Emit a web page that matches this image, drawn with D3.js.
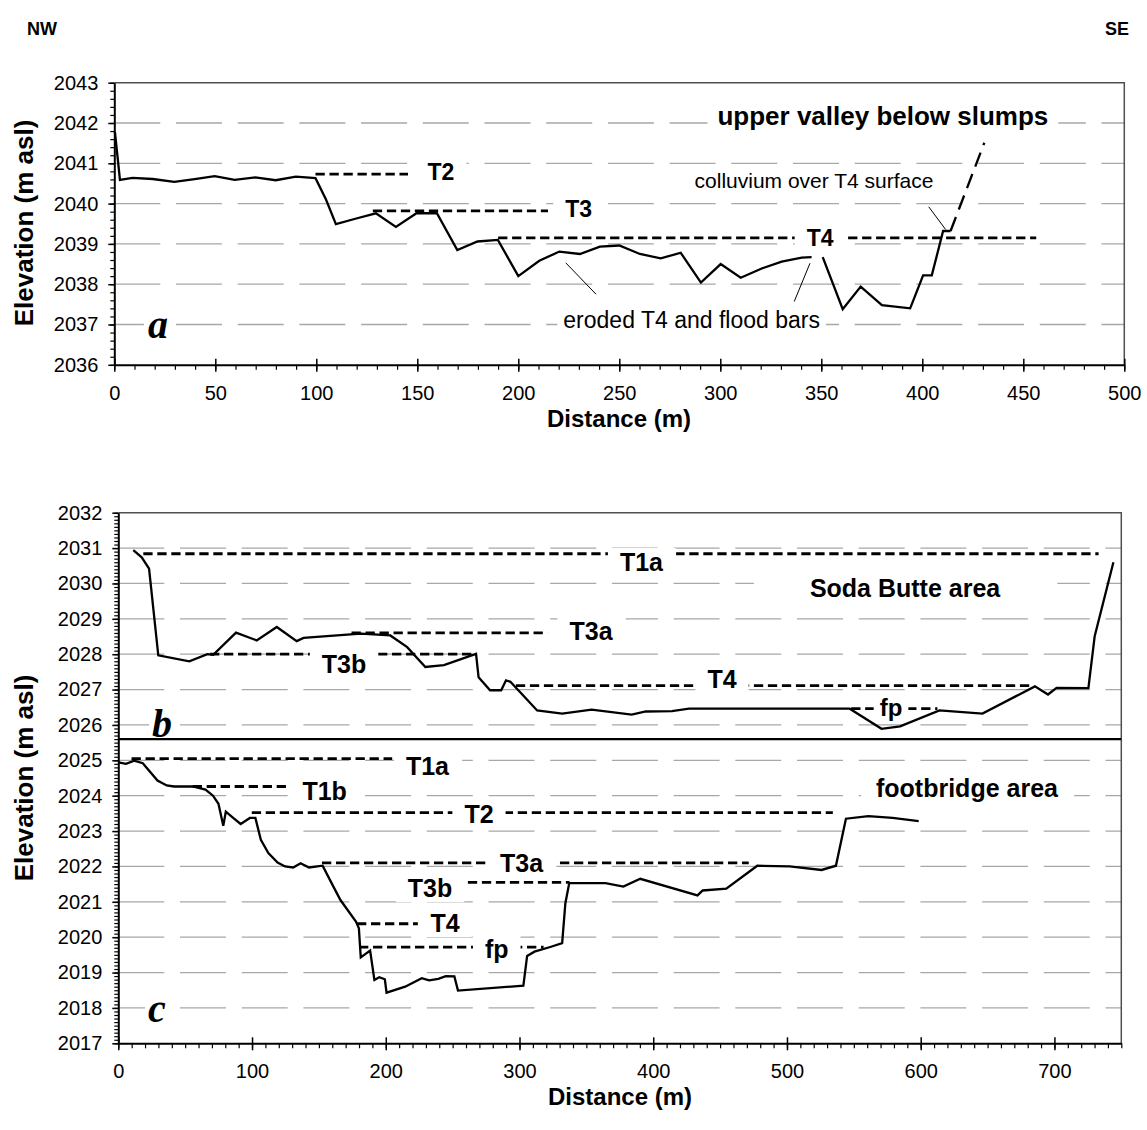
<!DOCTYPE html>
<html>
<head>
<meta charset="utf-8">
<script src="https://cdn.jsdelivr.net/npm/d3@7"></script>
<style>
  body { margin: 0; background: #fff; }
  svg { display: block; }
</style>
</head>
<body>
<svg id="fig" width="1147" height="1130"></svg>
<script>
// ---------- Profile a: upper valley below slumps ----------
const distA = [0.3, 2.8, 9, 19, 29.7, 39.8, 49.7, 59.6, 69.8, 79.9, 89.9, 99.6, 104.8, 109.7, 119.8, 129.5,
  139.4, 149.6, 159.7, 169.8, 179.8, 189.9, 200, 210.4, 220.3, 230.5, 240.4, 250, 260.2, 270.5, 280.4,
  290.4, 300.2, 310.1, 320.5, 330.4, 340.3, 345.2, 348, 350.7, 360.6, 369.5, 380, 394, 400.4, 404.7, 410.3, 414];
const elevA = [2041.78, 2040.59, 2040.64, 2040.61, 2040.54, 2040.61, 2040.68, 2040.59, 2040.65, 2040.58, 2040.67, 2040.63,
  2040.1, 2039.49, 2039.63, 2039.76, 2039.42, 2039.76, 2039.76, 2038.85, 2039.06, 2039.1, 2038.2, 2038.58,
  2038.81, 2038.75, 2038.93, 2038.96, 2038.75, 2038.64, 2038.78, 2038.04, 2038.5, 2038.16, 2038.39, 2038.56,
  2038.66, 2038.67, null, 2038.67, 2037.38, 2037.94, 2037.48, 2037.4, 2038.22, 2038.22, 2039.32, 2039.32];
// colluvium slope above the T4 surface (inferred, dashed)
const distColl = [414, 430.7];
const elevColl = [2039.32, 2041.51];
// terrace surfaces, panel a
const terrNameA  = ["T2", "T3", "T4"];
const terrStartA = [99.6, 128, 190];
const terrEndA   = [145.4, 214.7, 456.4];
const terrElevA  = [2040.73, 2039.82, 2039.15];

// ---------- Profile b: Soda Butte area ----------
const distB = [11.2, 17.5, 23, 29.9, 53.1, 66.6, 71, 88, 103.5, 118.5, 133.4, 138.5, 181.3, 203.4, 216,
  229.6, 243.5, 267.5, 269.4, 278, 286.3, 289.9, 293.2, 313.2, 331.9, 353.9, 383.9, 394.5, 414, 426.7,
  546.9, 570.7, 584.6, 614, 646.2, 685.4, 695.2, 701.6, 725.4, 730.1, 744.1];
const elevB = [2030.94, 2030.74, 2030.42, 2027.97, 2027.8, 2028.0, 2027.98, 2028.61, 2028.39, 2028.77,
  2028.37, 2028.46, 2028.58, 2028.53, 2028.2, 2027.64, 2027.69, 2028.01, 2027.35, 2026.98, 2026.98,
  2027.26, 2027.22, 2026.41, 2026.32, 2026.43, 2026.29, 2026.38, 2026.39, 2026.46, 2026.46, 2025.89,
  2025.96, 2026.41, 2026.32, 2027.09, 2026.86, 2027.05, 2027.04, 2028.51, 2030.6];
const terrNameB  = ["T1a", "T3a", "T3b", "T4", "fp"];
const terrStartB = [18.7, 174.4, 68.6, 297.3, 548];
const terrEndB   = [733, 321, 267, 684, 612.5];
const terrElevB  = [2030.84, 2028.6, 2028.0, 2027.11, 2026.46];

// ---------- Profile c: footbridge area ----------
const distC = [0, 5.8, 11.9, 18.3, 29.3, 36.2, 41.7, 55.6, 65.2, 70.8, 74.9, 78.5, 80.4, 85.9, 91.5,
  98.4, 102.5, 106.6, 112.2, 119.1, 124.7, 130.8, 136.3, 142.6, 152.8, 159.2, 166.1, 177.7, 179.9,
  181.3, 188.3, 191.5, 195.1, 199.3, 200.6, 214.5, 226.9, 232.4, 239.3, 244.9, 251.3, 254, 302.9,
  305.7, 311.2, 323.6, 331.9, 334.3, 337.2, 364.3, 377.7, 390.3, 433.1, 437, 454.6, 477.8, 502.1,
  525.9, 536.6, 544.1, 560.9, 579, 598.5];
const elevC = [2024.94, 2024.9, 2024.99, 2024.92, 2024.43, 2024.29, 2024.26, 2024.26, 2024.17, 2024.0,
  2023.77, 2023.15, 2023.55, 2023.37, 2023.2, 2023.37, 2023.37, 2022.75, 2022.38, 2022.11, 2022.0,
  2021.97, 2022.09, 2021.97, 2022.02, 2021.55, 2021.05, 2020.44, 2020.25, 2019.43, 2019.62, 2018.79,
  2018.87, 2018.81, 2018.43, 2018.6, 2018.84, 2018.78, 2018.82, 2018.9, 2018.89, 2018.49, 2018.63,
  2019.47, 2019.59, 2019.73, 2019.83, 2020.96, 2021.53, 2021.53, 2021.43, 2021.65, 2021.18, 2021.32,
  2021.37, 2022.02, 2022.0, 2021.9, 2022.02, 2023.35, 2023.42, 2023.37, 2023.28];
const terrNameC  = ["T1a", "T1b", "T2", "T3a", "T3b", "T4", "fp"];
const terrStartC = [9.9, 55.6, 99.8, 152.3, 261.4, 178.5, 180];
const terrEndC   = [204.8, 126, 534.3, 471.4, 337.4, 224, 318];
const terrElevC  = [2025.05, 2024.26, 2023.52, 2022.1, 2021.55, 2020.38, 2019.72];

// boundary between the two stacked profiles (b above, c below)
const dividerElev = 2025.6;

// ---------- axis ticks ----------
const xMajorA = [0, 50, 100, 150, 200, 250, 300, 350, 400, 450, 500];
const yMajorA = [2036, 2037, 2038, 2039, 2040, 2041, 2042, 2043];
const xMajorBC = [0, 100, 200, 300, 400, 500, 600, 700];
const yMajorBC = [2017, 2018, 2019, 2020, 2021, 2022, 2023, 2024, 2025, 2026, 2027, 2028, 2029, 2030, 2031, 2032];

// ---------- layout ----------
const FONT = 'Arial, "Liberation Sans", Helvetica, sans-serif';
const SERIF = '"Liberation Serif", "Times New Roman", serif';
const svg = d3.select("#fig");

const xA = d3.scaleLinear().domain([0, 500]).range([114.3, 1124.3]);
const yA = d3.scaleLinear().domain([2036, 2043]).range([364.8, 82.7]);
const xB = d3.scaleLinear().domain([0, 750]).range([118.3, 1121.3]);
const yB = d3.scaleLinear().domain([2017, 2032]).range([1043.3, 512.7]);

function zip(xs, ys) { return xs.map((d, i) => ({ d, e: ys[i] })); }

function frame(x, y, yMajor) {
  const g = svg.append("g");
  const [xa, xb] = x.range();
  const [yb, ya] = y.range();
  const [lo, hi] = y.domain();
  g.append("g").selectAll("line")
    .data(yMajor.filter(v => v > lo && v < hi))
    .join("line")
    .attr("x1", xa).attr("x2", xb)
    .attr("y1", d => y(d)).attr("y2", d => y(d))
    .attr("stroke", "#a8a8a8").attr("stroke-width", 1.3)
    .attr("stroke-dasharray", "46,15.7");
  g.append("path")
    .attr("d", `M${xa},${ya}H${xb}V${yb}`)
    .attr("fill", "none").attr("stroke", "#505050").attr("stroke-width", 1.5);
  return g;
}

function axes(x, y, xMajor, xStep, yMajor, yStep) {
  const g = svg.append("g");
  const [xa, xb] = x.range();
  const [yb, ya] = y.range();
  const [x0, x1] = x.domain();
  const [y0, y1] = y.domain();
  const xMinor = d3.range(x0, x1 + 1e-6, xStep);
  const yMinor = d3.range(y0, y1 + 1e-6, yStep);

  g.append("g").attr("transform", `translate(0,${yb})`)
    .call(d3.axisBottom(x).tickValues(xMinor).tickSize(5).tickFormat(""))
    .call(s => s.select(".domain").remove())
    .selectAll(".tick line").attr("stroke-width", 1.2);

  const bx = g.append("g").attr("transform", `translate(0,${yb})`)
    .call(d3.axisBottom(x).tickValues(xMajor).tickSize(7).tickSizeOuter(0).tickFormat(d3.format("d")));
  bx.select(".domain").attr("stroke-width", 2);
  bx.selectAll(".tick line").attr("y1", -6).attr("stroke-width", 1.5);
  bx.selectAll(".tick text").attr("dy", null).attr("y", 35)
    .attr("font-size", 20).attr("font-family", FONT).attr("fill", "#000");

  g.append("g").attr("transform", `translate(${xa},0)`)
    .call(d3.axisLeft(y).tickValues(yMinor).tickSize(4).tickFormat(""))
    .call(s => s.select(".domain").remove())
    .selectAll(".tick line").attr("stroke-width", 1.2);

  const ly = g.append("g").attr("transform", `translate(${xa},0)`)
    .call(d3.axisLeft(y).tickValues(yMajor).tickSize(6).tickSizeOuter(0).tickPadding(10).tickFormat(d3.format("d")));
  ly.select(".domain").attr("stroke-width", 2);
  ly.selectAll(".tick line").attr("stroke-width", 1.5);
  ly.selectAll(".tick text")
    .attr("font-size", 20).attr("font-family", FONT).attr("fill", "#000");
  bx.attr("font-family", null).attr("font-size", null);
  ly.attr("font-family", null).attr("font-size", null);
}

function terraces(g, x, y, names, starts, ends, elevs) {
  g.append("g").selectAll("line")
    .data(names.map((n, i) => ({ n, s: starts[i], t: ends[i], e: elevs[i] })))
    .join("line")
    .attr("x1", d => x(d.s)).attr("x2", d => x(d.t))
    .attr("y1", d => y(d.e)).attr("y2", d => y(d.e))
    .attr("stroke", "#000").attr("stroke-width", 2.8)
    .attr("stroke-dasharray", "9.3,4.7");
}

function profile(g, x, y, pts, dash) {
  const line = d3.line()
    .defined(p => p.e !== null)
    .x(p => x(p.d)).y(p => y(p.e));
  g.append("path").datum(pts)
    .attr("d", line)
    .attr("fill", "none").attr("stroke", "#000").attr("stroke-width", 2.3)
    .attr("stroke-linejoin", "miter")
    .attr("stroke-dasharray", dash || null);
}

function leader(g, x, y, d0, e0, d1, e1) {
  g.append("line")
    .attr("x1", x(d0)).attr("y1", y(e0)).attr("x2", x(d1)).attr("y2", y(e1))
    .attr("stroke", "#000").attr("stroke-width", 1);
}

// text on an opaque white box, as placed in the figure
function label(g, text, px, py, o) {
  const lg = g.append("g");
  const r = lg.append("rect").attr("fill", "#fff");
  const t = lg.append("text")
    .attr("x", px).attr("y", py)
    .attr("text-anchor", o.anchor || "middle")
    .attr("font-family", o.family || FONT)
    .attr("font-size", o.size)
    .attr("font-weight", o.weight || "normal")
    .attr("font-style", o.style || "normal")
    .attr("fill", "#000")
    .text(text);
  const b = t.node().getBBox();
  const padX = o.padX ?? 4, padY = o.padY ?? 0;
  r.attr("x", b.x - padX).attr("y", b.y - padY)
    .attr("width", b.width + 2 * padX).attr("height", b.height + 2 * padY);
  return lg;
}

// ================= panel a =================
const gA = frame(xA, yA, yMajorA);
terraces(gA, xA, yA, terrNameA, terrStartA, terrEndA, terrElevA);
profile(gA, xA, yA, zip(distA, elevA));
profile(gA, xA, yA, zip(distColl, elevColl), "15,8");
leader(gA, xA, yA, 223.5, 2038.53, 238.5, 2037.75);
leader(gA, xA, yA, 344.4, 2038.52, 336.6, 2037.57);
leader(gA, xA, yA, 403.2, 2039.92, 411.5, 2039.36);

const terrLabelA = { T2: [161.7, 2040.59], T3: [229.9, 2039.67], T4: [349.4, 2038.96] };
terrNameA.forEach(n => {
  const [d, e] = terrLabelA[n];
  label(gA, n, xA(d), yA(e), { size: 23, weight: "bold", padX: 12 });
});
label(gA, "upper valley below slumps", xA(380.5), yA(2041.96), { size: 26, weight: "bold", padX: 10 });
label(gA, "colluvium over T4 surface", xA(346.4), yA(2040.38), { size: 21, padX: 4 });
label(gA, "eroded T4 and flood bars", xA(285.8), yA(2036.91), { size: 23, padX: 6 });
label(gA, "a", xA(21.6), yA(2036.67), { size: 40, weight: "bold", style: "italic", family: SERIF, padX: 4 });
axes(xA, yA, xMajorA, 10, yMajorA, 0.2);

// ================= panels b and c =================
const gB = frame(xB, yB, yMajorBC);
terraces(gB, xB, yB, terrNameB, terrStartB, terrEndB, terrElevB);
terraces(gB, xB, yB, terrNameC, terrStartC, terrEndC, terrElevC);
profile(gB, xB, yB, zip(distB, elevB));
profile(gB, xB, yB, zip(distC, elevC));

const terrLabelB = { T1a: [391.2, 2030.35], T3a: [353.5, 2028.4], T3b: [168.8, 2027.47], T4: [451.4, 2027.04], fp: [577.8, 2026.25] };
terrNameB.forEach(n => {
  const [d, e] = terrLabelB[n];
  label(gB, n, xB(d), yB(e), { size: n === "fp" ? 24 : 25, weight: "bold", padX: n === "fp" ? 6 : 12 });
});
const terrLabelC = { T1a: [231.2, 2024.58], T1b: [154.3, 2023.88], T2: [269.7, 2023.23], T3a: [301.6, 2021.84],
  T3b: [233.1, 2021.13], T4: [244.3, 2020.14], fp: [283, 2019.41] };
terrNameC.forEach(n => {
  const [d, e] = terrLabelC[n];
  label(gB, n, xB(d), yB(e), { size: 25, weight: "bold", padX: 12 });
});
label(gB, "Soda Butte area", xB(588.3), yB(2029.62), { size: 25, weight: "bold", padX: 56 });
label(gB, "footbridge area", xB(634.6), yB(2023.96), { size: 25, weight: "bold", padX: 15 });
label(gB, "b", xB(32.7), yB(2025.67), { size: 40, weight: "bold", style: "italic", family: SERIF, padX: 3 });
label(gB, "c", xB(28.9), yB(2017.6), { size: 40, weight: "bold", style: "italic", family: SERIF, padX: 3 });

gB.append("line")
  .attr("x1", xB.range()[0]).attr("x2", xB.range()[1])
  .attr("y1", yB(dividerElev)).attr("y2", yB(dividerElev))
  .attr("stroke", "#000").attr("stroke-width", 2.3);
axes(xB, yB, xMajorBC, 10, yMajorBC, 0.1);

// ================= titles =================
const gT = svg.append("g").attr("font-family", FONT).attr("font-weight", "bold").attr("fill", "#000");
gT.append("text").attr("x", 42).attr("y", 35).attr("text-anchor", "middle").attr("font-size", 18).text("NW");
gT.append("text").attr("x", 1117).attr("y", 35).attr("text-anchor", "middle").attr("font-size", 18).text("SE");
gT.append("text").attr("transform", "translate(33,223) rotate(-90)").attr("text-anchor", "middle")
  .attr("font-size", 26).text("Elevation (m asl)");
gT.append("text").attr("transform", "translate(33,778) rotate(-90)").attr("text-anchor", "middle")
  .attr("font-size", 26).text("Elevation (m asl)");
gT.append("text").attr("x", 619).attr("y", 427).attr("text-anchor", "middle").attr("font-size", 24).text("Distance (m)");
gT.append("text").attr("x", 620).attr("y", 1104.5).attr("text-anchor", "middle").attr("font-size", 24).text("Distance (m)");
</script>
</body>
</html>
